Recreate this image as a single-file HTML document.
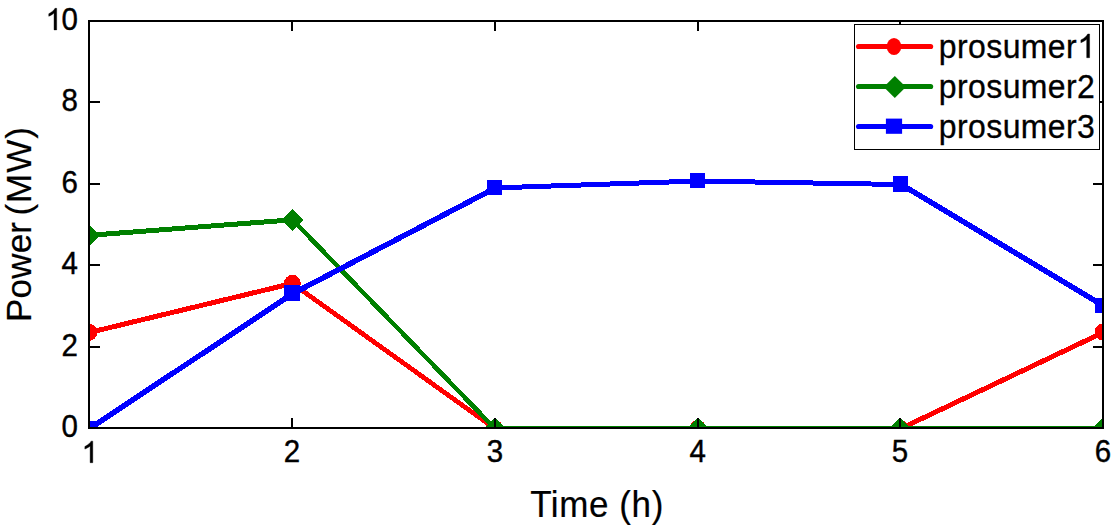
<!DOCTYPE html>
<html><head><meta charset="utf-8"><title>chart</title>
<style>
html,body{margin:0;padding:0;background:#fff;}
body{width:1111px;height:525px;overflow:hidden;font-family:"Liberation Sans",sans-serif;}
svg{display:block;}
text{font-family:"Liberation Sans",sans-serif;fill:#000;stroke:#000;stroke-width:0.5px;}
.tk{font-size:29.5px;stroke-width:0.38px;}
.lb{font-size:35px;stroke-width:0.2px;}
.lg{font-size:32px;letter-spacing:0.4px;stroke-width:0.3px;}
</style></head><body>
<svg width="1111" height="525" viewBox="0 0 1111 525">
<rect x="0" y="0" width="1111" height="525" fill="#ffffff"/>
<defs><clipPath id="cp"><rect x="90" y="22" width="1012" height="407"/></clipPath></defs>

<g clip-path="url(#cp)" shape-rendering="crispEdges">
<line x1="89.00" y1="332.60" x2="292.40" y2="283.40" stroke="#ff0000" stroke-width="5.0"/>
<line x1="292.40" y1="283.50" x2="494.80" y2="428.50" stroke="#ff0000" stroke-width="4.8"/>
<line x1="494.80" y1="428.50" x2="697.80" y2="428.50" stroke="#ff0000" stroke-width="5.0"/>
<line x1="697.80" y1="428.50" x2="900.40" y2="428.50" stroke="#ff0000" stroke-width="5.0"/>
<line x1="900.40" y1="428.75" x2="1103.00" y2="332.55" stroke="#ff0000" stroke-width="5.0"/>
<ellipse cx="89.0" cy="332.4" rx="8.4" ry="8.4" fill="#ff0000"/>
<ellipse cx="292.4" cy="283.2" rx="8.4" ry="8.4" fill="#ff0000"/>
<ellipse cx="494.8" cy="428.5" rx="8.4" ry="8.4" fill="#ff0000"/>
<ellipse cx="697.8" cy="428.5" rx="8.4" ry="8.4" fill="#ff0000"/>
<ellipse cx="900.4" cy="428.5" rx="8.4" ry="8.4" fill="#ff0000"/>
<ellipse cx="1103.0" cy="332.0" rx="8.4" ry="8.4" fill="#ff0000"/>
<line x1="89.00" y1="235.34" x2="292.60" y2="219.80" stroke="#008000" stroke-width="5.0"/>
<line x1="292.60" y1="219.80" x2="494.80" y2="428.50" stroke="#008000" stroke-width="4.6"/>
<line x1="494.80" y1="428.50" x2="697.80" y2="428.50" stroke="#008000" stroke-width="5.0"/>
<line x1="697.80" y1="428.50" x2="900.40" y2="428.50" stroke="#008000" stroke-width="5.0"/>
<line x1="900.40" y1="428.50" x2="1103.30" y2="428.50" stroke="#008000" stroke-width="5.0"/>
<polygon points="78.0,235.3 89.0,224.3 100.0,235.3 89.0,246.3" fill="#008000"/>
<polygon points="281.7,220.0 292.7,209.0 303.7,220.0 292.7,231.0" fill="#008000"/>
<polygon points="483.8,428.5 494.8,417.5 505.8,428.5 494.8,439.5" fill="#008000"/>
<polygon points="686.8,428.5 697.8,417.5 708.8,428.5 697.8,439.5" fill="#008000"/>
<polygon points="889.4,428.5 900.4,417.5 911.4,428.5 900.4,439.5" fill="#008000"/>
<polygon points="1092.3,428.5 1103.3,417.5 1114.3,428.5 1103.3,439.5" fill="#008000"/>
<line x1="89.00" y1="429.00" x2="292.20" y2="293.90" stroke="#0000ff" stroke-width="5.5"/>
<line x1="292.20" y1="293.90" x2="494.50" y2="188.45" stroke="#0000ff" stroke-width="5.5"/>
<line x1="494.50" y1="187.95" x2="697.50" y2="181.02" stroke="#0000ff" stroke-width="5.0"/>
<line x1="697.50" y1="181.02" x2="900.50" y2="184.50" stroke="#0000ff" stroke-width="5.0"/>
<line x1="900.50" y1="184.00" x2="1102.50" y2="305.20" stroke="#0000ff" stroke-width="5.5"/>
<rect x="81.5" y="421.0" width="15.0" height="15.0" fill="#0000ff"/>
<rect x="284.0" y="285.0" width="16.0" height="16.0" fill="#0000ff"/>
<rect x="487.0" y="180.0" width="15.0" height="15.0" fill="#0000ff"/>
<rect x="690.0" y="173.0" width="15.0" height="15.0" fill="#0000ff"/>
<rect x="893.0" y="176.0" width="15.0" height="16.0" fill="#0000ff"/>
<rect x="1095.0" y="298.0" width="15.0" height="15.0" fill="#0000ff"/>
</g>
<g shape-rendering="crispEdges" fill="#000">
<rect x="88" y="20" width="1016" height="2"/>
<rect x="88" y="427" width="1016" height="2"/>
<rect x="88" y="20" width="2" height="409"/>
<rect x="1102" y="20" width="2" height="409"/>
<rect x="291" y="418" width="2" height="10"/>
<rect x="291" y="21" width="2" height="10"/>
<rect x="494" y="418" width="2" height="10"/>
<rect x="494" y="21" width="2" height="10"/>
<rect x="697" y="418" width="2" height="10"/>
<rect x="697" y="21" width="2" height="10"/>
<rect x="899" y="418" width="2" height="10"/>
<rect x="899" y="21" width="2" height="10"/>
<rect x="89" y="346" width="11" height="2"/>
<rect x="1093" y="346" width="10" height="2"/>
<rect x="89" y="264" width="11" height="2"/>
<rect x="1093" y="264" width="10" height="2"/>
<rect x="89" y="183" width="11" height="2"/>
<rect x="1093" y="183" width="10" height="2"/>
<rect x="89" y="101" width="11" height="2"/>
<rect x="1093" y="101" width="10" height="2"/>
</g>
<text class="tk" transform="translate(292.00,462.40) scale(1,1.080)" text-anchor="middle">2</text>
<text class="tk" transform="translate(495.00,462.40) scale(1,1.080)" text-anchor="middle">3</text>
<text class="tk" transform="translate(697.60,462.40) scale(1,1.080)" text-anchor="middle">4</text>
<text class="tk" transform="translate(900.00,462.40) scale(1,1.080)" text-anchor="middle">5</text>
<text class="tk" transform="translate(1103.00,462.40) scale(1,1.080)" text-anchor="middle">6</text>
<path d="M763 0H583V1147Q518 1085 412.5 1023T223 930V1104Q374 1175 487 1276T647 1472H763Z" transform="translate(81.60,462.70) scale(0.01465,-0.01465)" fill="#000" stroke="#000" stroke-width="0.4" vector-effect="non-scaling-stroke"/>
<text class="tk" transform="translate(78.00,436.90) scale(1,1.080)" text-anchor="end">0</text>
<text class="tk" transform="translate(78.00,355.50) scale(1,1.080)" text-anchor="end">2</text>
<text class="tk" transform="translate(78.00,274.10) scale(1,1.080)" text-anchor="end">4</text>
<text class="tk" transform="translate(78.00,192.70) scale(1,1.080)" text-anchor="end">6</text>
<text class="tk" transform="translate(78.00,111.30) scale(1,1.080)" text-anchor="end">8</text>
<text class="tk" transform="translate(78.00,29.90) scale(1,1.080)" text-anchor="end">0</text>
<path d="M763 0H583V1147Q518 1085 412.5 1023T223 930V1104Q374 1175 487 1276T647 1472H763Z" transform="translate(45.50,29.90) scale(0.01465,-0.01465)" fill="#000" stroke="#000" stroke-width="0.4" vector-effect="non-scaling-stroke"/>
<text class="lb" transform="translate(530.20,517.00) scale(1,1.030)" text-anchor="start" style="letter-spacing:0.6px">Time (h)</text>
<text class="lb" transform="translate(31.3,322) rotate(-90)" text-anchor="start" style="letter-spacing:0.2px">Power</text>
<text class="lb" transform="translate(31.3,215.6) rotate(-90)" text-anchor="start" style="letter-spacing:1px">(MW)</text>
<rect x="854.5" y="24.5" width="245" height="125" fill="#fff" stroke="#000" stroke-width="1" shape-rendering="crispEdges"/>
<line x1="858.6" x2="930.6" y1="46.5" y2="46.5" stroke="#ff0000" stroke-width="5.2" stroke-linecap="round"/>
<line x1="858.6" x2="930.6" y1="86.5" y2="86.5" stroke="#008000" stroke-width="5.2" stroke-linecap="round"/>
<line x1="858.6" x2="930.6" y1="126.5" y2="126.5" stroke="#0000ff" stroke-width="5.2" stroke-linecap="round"/>
<ellipse cx="894.0" cy="46.5" rx="7.3" ry="8.6" fill="#ff0000"/>
<polygon points="883.7,87.0 894.8,75.9 905.9,87.0 894.8,98.1" fill="#008000"/>
<rect x="885.9" y="118.6" width="16.2" height="15.2" fill="#0000ff"/>
<text class="lg" transform="translate(938.80,57.50) scale(1,1.065)" text-anchor="start">prosumer</text>
<text class="lg" transform="translate(938.80,97.50) scale(1,1.065)" text-anchor="start">prosumer2</text>
<text class="lg" transform="translate(938.80,137.60) scale(1,1.065)" text-anchor="start">prosumer3</text>
<path d="M763 0H583V1147Q518 1085 412.5 1023T223 930V1104Q374 1175 487 1276T647 1472H763Z" transform="translate(1077.30,57.70) scale(0.01611,-0.01611)" fill="#000" stroke="#000" stroke-width="0.4" vector-effect="non-scaling-stroke"/>
</svg></body></html>
